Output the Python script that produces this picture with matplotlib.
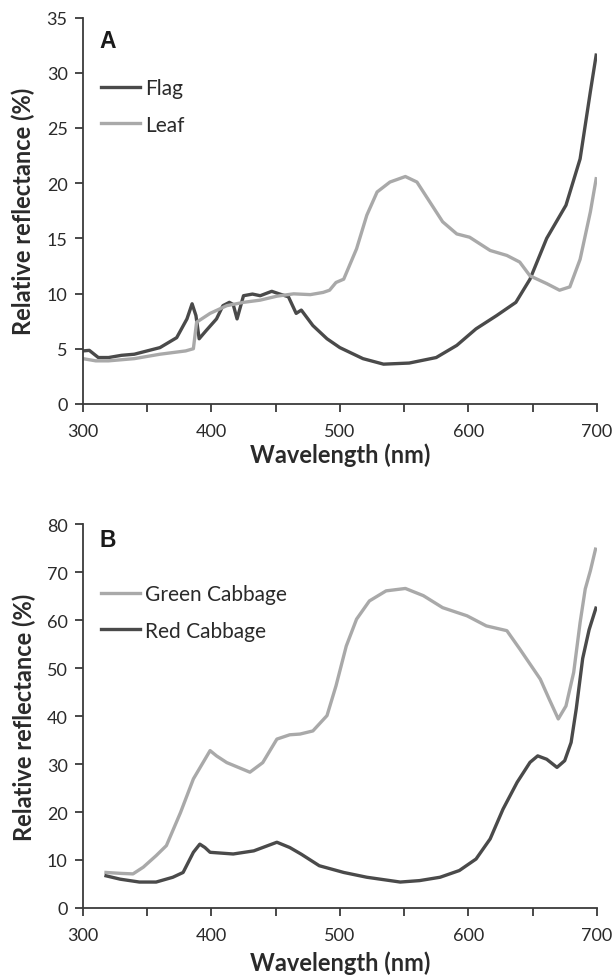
import matplotlib
matplotlib.use("Agg")
import matplotlib.pyplot as plt
from matplotlib.ticker import MultipleLocator

plt.rcParams["font.family"] = ["Lato", "DejaVu Sans"]

# Panel A: flag vs leaf
flag_wl = [300, 305, 312, 320, 330, 340, 350, 360, 373, 381, 385, 388, 390.5,
           396, 404, 409, 414, 417, 420, 425, 432, 438, 447, 452, 460, 466, 470,
           479, 490, 500, 518, 534, 554, 575, 591, 606, 622, 637, 648, 661, 676,
           687, 695, 699.5]
flag_val = [4.8, 4.85, 4.2, 4.2, 4.4, 4.5, 4.8, 5.1, 6.0, 7.7, 9.07, 8.0, 5.9,
            6.65, 7.7, 8.9, 9.2, 9.0, 7.7, 9.8, 9.95, 9.8, 10.2, 10.0, 9.7, 8.2, 8.5,
            7.1, 5.9, 5.1, 4.1, 3.6, 3.7, 4.2, 5.3, 6.8, 8.0, 9.2, 11.3, 15.0, 18.0,
            22.2, 28.3, 31.6]

leaf_wl = [300, 310, 320, 340, 360, 380, 386, 388.5, 399, 412, 425, 438, 451,
           464, 477, 487, 492, 497, 503, 513, 521, 529, 539, 551, 560, 570, 580,
           591, 601, 617, 630, 640, 648, 661, 671, 679, 687, 695, 699.5]
leaf_val = [4.1, 3.9, 3.9, 4.1, 4.5, 4.8, 5.0, 7.4, 8.2, 8.9, 9.2, 9.4, 9.76,
            9.97, 9.9, 10.1, 10.3, 11.0, 11.3, 14.05, 17.1, 19.2, 20.1, 20.6, 20.1,
            18.3, 16.5, 15.4, 15.1, 13.9, 13.45, 12.85, 11.6, 10.9, 10.3, 10.6,
            13.1, 17.4, 20.4]

# Panel B: green vs red cabbage
green_wl = [318, 330, 339, 347, 357, 365, 376, 386, 399, 404, 412, 430, 440, 451,
            461, 469, 479, 490, 497, 505, 513, 523, 536, 551, 565, 580, 599, 614,
            630, 640, 656, 663, 670, 676, 682, 687, 691, 695, 699]
green_val = [7.4, 7.2, 7.1, 8.5, 10.9, 13.0, 19.9, 26.9, 32.8, 31.7, 30.3, 28.3,
             30.3, 35.2, 36.1, 36.25, 36.9, 40.1, 46.3, 54.6, 60.2, 64.0, 66.1, 66.6,
             65.1, 62.6, 60.9, 58.8, 57.8, 54.0, 47.7, 43.5, 39.4, 42.1, 49.1, 59.5,
             66.5, 70.3, 74.8]

red_wl = [318, 329, 344, 357, 370, 378, 386, 391, 395, 399, 417, 433, 451, 461,
          470, 484, 503, 521, 547, 562, 578, 593, 606, 617, 627, 638, 648, 654,
          661, 669, 675, 680, 684, 689, 694, 699.3]
red_val = [6.7, 6.0, 5.4, 5.4, 6.4, 7.4, 11.6, 13.3, 12.6, 11.6, 11.25, 11.9, 13.7,
           12.6, 11.2, 8.8, 7.4, 6.4, 5.4, 5.7, 6.4, 7.8, 10.2, 14.4, 20.6, 26.2,
           30.35, 31.7, 31.0, 29.3, 30.7, 34.5, 41.5, 52.0, 58.0, 62.5]

dark = "#4a4a4a"
light = "#a9a9a9"
axis_col = "#3a3a3a"
text_col = "#2a2a2a"

fig = plt.figure(figsize=(6.14, 9.78), dpi=100)
ax_a = fig.add_axes([0.135, 0.586, 0.837, 0.395])
ax_b = fig.add_axes([0.135, 0.0706, 0.837, 0.3924])

ax_a.plot(flag_wl, flag_val, color=dark, lw=2.4, label="Flag")
ax_a.plot(leaf_wl, leaf_val, color=light, lw=2.4, label="Leaf")
ax_a.set_ylim(0, 35)
ax_a.yaxis.set_major_locator(MultipleLocator(5))

ax_b.plot(green_wl, green_val, color=light, lw=2.4, label="Green Cabbage")
ax_b.plot(red_wl, red_val, color=dark, lw=2.4, label="Red Cabbage")
ax_b.set_ylim(0, 80)
ax_b.yaxis.set_major_locator(MultipleLocator(10))

for ax, letter, letter_y, xpad in [(ax_a, "A", 0.97, 2), (ax_b, "B", 0.99, 5)]:
    ax.set_xlim(300, 700)
    ax.xaxis.set_major_locator(MultipleLocator(100))
    ax.xaxis.set_minor_locator(MultipleLocator(50))
    for side in ["top", "right"]:
        ax.spines[side].set_visible(False)
    for side in ["left", "bottom"]:
        ax.spines[side].set_color(axis_col)
        ax.spines[side].set_linewidth(1.3)
    ax.tick_params(which="both", direction="out", length=6, width=1.3,
                   color=axis_col, labelsize=13, labelcolor=text_col)
    ax.tick_params(axis="x", which="both", pad=8)
    ax.tick_params(axis="y", pad=5)
    ax.set_xlabel("Wavelength (nm)", fontsize=17, fontweight="bold",
                  color=text_col, labelpad=xpad)
    ax.set_ylabel("Relative reflectance (%)", fontsize=17, fontweight="bold",
                  color=text_col, labelpad=8)
    ax.text(0.033, letter_y, letter, transform=ax.transAxes, fontsize=16.5,
            fontweight="bold", family="Liberation Sans", color="#1a1a1a",
            va="top", ha="left")
    ax.legend(loc="center left", bbox_to_anchor=(0.035, 0.77), frameon=False,
              fontsize=15, handlelength=1.9, handletextpad=0.2,
              labelspacing=0.8, borderpad=0, borderaxespad=0,
              labelcolor=text_col)

fig.savefig("out.png", dpi=100)
